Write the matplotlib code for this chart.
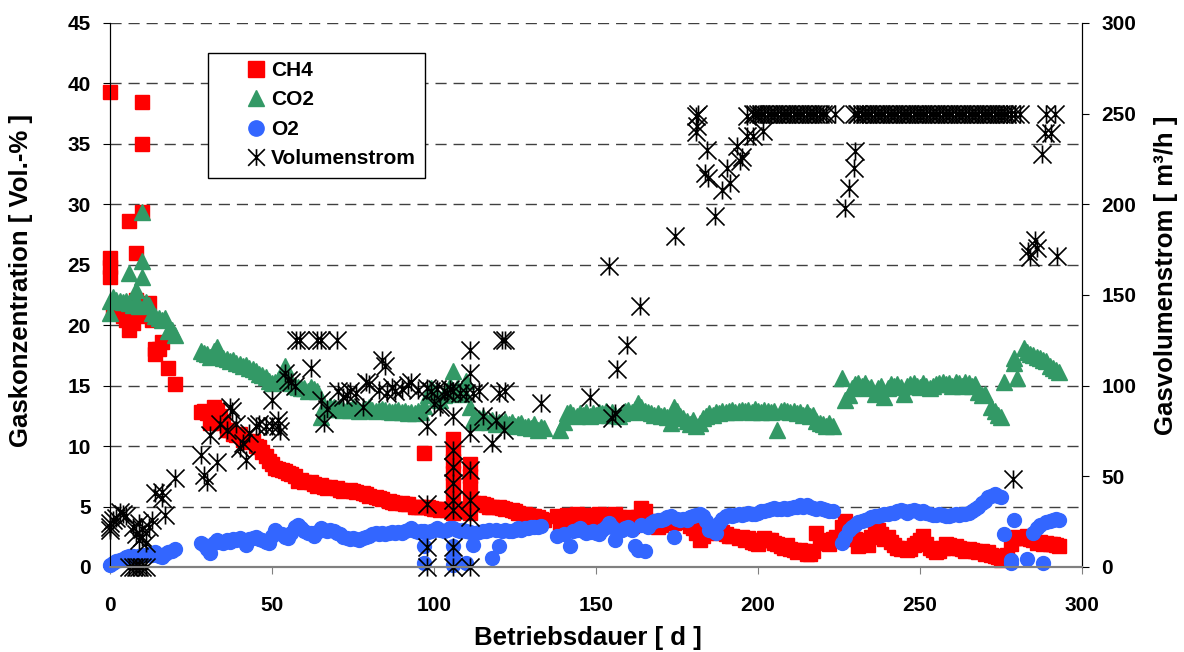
"""
Gaskonzentration und Volumenstrom ueber die Betriebsdauer
"""
import matplotlib
matplotlib.use("Agg")
import matplotlib.pyplot as plt
from matplotlib.path import Path
from matplotlib.patches import Rectangle
from matplotlib.lines import Line2D

plt.rcParams['font.family'] = ['Liberation Sans', 'DejaVu Sans']
plt.rcParams['font.weight'] = 'bold'

# (Tag, Vol.-%)
ch4 = [(0, 39.3), (0, 25.6), (0, 24.8), (0, 24.0), (1, 21.2), (2, 21.3), (3, 21.0), (4, 20.8),
       (5, 20.4), (6, 19.6), (6, 28.6), (7, 20.2), (8, 26.0), (8, 22.1), (9, 21.0), (10, 38.5),
       (10, 35.0), (10, 29.4), (11, 20.8), (12, 21.8), (13, 20.4), (14, 18.0), (14, 17.6),
       (15, 18.0), (16, 18.6), (18, 16.5), (20, 15.1),
       (28, 12.8), (29, 12.9), (30, 12.7), (31, 11.9), (32, 13.2), (33, 13.0), (34, 12.5),
       (35, 11.9), (36, 11.3), (37, 11.3), (38, 11.0), (39, 10.9), (40, 11.0), (41, 10.5),
       (42, 10.4), (43, 10.3), (44, 10.4), (45, 10.0), (46, 9.9), (47, 9.5), (48, 9.2),
       (49, 8.8), (50, 8.5), (51, 8.2), (52, 8.1), (53, 8.0), (54, 7.9), (55, 7.8), (56, 7.7),
       (57, 7.5), (58, 7.1), (59, 7.2), (60, 7.0), (62, 7.0), (63, 6.9), (64, 6.7), (65, 6.8),
       (66, 6.6), (67, 6.5), (68, 6.6), (70, 6.5), (71, 6.4), (72, 6.3), (74, 6.4), (75, 6.3),
       (76, 6.2), (78, 6.1), (79, 6.0), (80, 5.9), (82, 5.8), (83, 5.7), (84, 5.6), (86, 5.5),
       (87, 5.4), (88, 5.3), (90, 5.3), (91, 5.2), (92, 5.2), (94, 5.0), (95, 5.0), (96, 5.0),
       (97, 9.4), (98, 5.0), (99, 4.9), (100, 4.8), (101, 4.8), (102, 4.7), (103, 4.8),
       (104, 4.7), (106, 10.6), (106, 9.8), (106, 8.8), (106, 7.8), (106, 6.8), (106, 5.8),
       (106, 4.8), (106, 4.5), (108, 4.7), (111, 8.5), (111, 7.5), (111, 6.5), (111, 5.5),
       (111, 4.5), (112, 5.3), (113, 5.2), (114, 5.3), (115, 5.2), (116, 5.1), (117, 5.0),
       (118, 5.0), (120, 5.0), (121, 4.9), (122, 4.8), (124, 4.7), (125, 4.6), (126, 4.5),
       (128, 4.4), (129, 4.3), (130, 4.2), (131, 4.2), (132, 4.1), (133, 4.0), (134, 3.9),
       (138, 4.2), (139, 3.6), (140, 4.0), (141, 4.3), (142, 4.2), (143, 3.9), (144, 4.4),
       (145, 4.2), (146, 4.0), (147, 4.3), (148, 4.1), (149, 3.9), (150, 4.3), (151, 4.4),
       (152, 4.2), (153, 4.0), (154, 3.8), (155, 4.3), (156, 4.4), (157, 4.1), (158, 3.6),
       (159, 3.9), (160, 4.1), (161, 3.4), (162, 3.8), (163, 4.1), (164, 4.9), (165, 4.6),
       (166, 3.8), (167, 3.5), (168, 3.4), (169, 3.3), (170, 3.5), (172, 3.6), (173, 3.7),
       (174, 3.6), (176, 3.8), (177, 3.7), (178, 3.8), (179, 3.4), (180, 3.2), (181, 2.8),
       (182, 2.2), (183, 2.6), (184, 2.8), (185, 3.3), (186, 3.0), (187, 2.9), (188, 2.8),
       (189, 2.9), (190, 2.7), (191, 2.6), (192, 2.6), (194, 2.4), (195, 2.5), (196, 2.2),
       (197, 2.4), (198, 2.1), (199, 2.0), (200, 1.9), (201, 2.2), (202, 2.4), (203, 2.2),
       (204, 2.2), (205, 2.0), (206, 1.9), (207, 1.7), (208, 1.6), (209, 1.8), (210, 1.5),
       (211, 1.4), (212, 1.2), (213, 1.4), (214, 1.3), (215, 1.1), (216, 1.1), (217, 1.3),
       (218, 2.8), (219, 2.0), (220, 2.1), (221, 2.2), (222, 1.9), (223, 2.3), (224, 2.5),
       (226, 3.3), (227, 3.8), (228, 2.8), (229, 2.5), (230, 2.3), (231, 1.7), (232, 2.0),
       (233, 2.2), (234, 1.8), (235, 2.5), (236, 2.8), (237, 3.1), (238, 2.7), (239, 2.3),
       (240, 2.5), (241, 2.1), (242, 1.8), (243, 1.6), (244, 1.5), (245, 1.6), (246, 1.4),
       (247, 1.5), (248, 1.8), (249, 2.0), (250, 2.2), (251, 2.6), (252, 1.9), (253, 1.6),
       (254, 1.4), (255, 1.2), (256, 1.3), (257, 1.6), (258, 1.9), (259, 1.8), (260, 1.6),
       (261, 1.7), (262, 1.6), (263, 1.5), (264, 1.3), (265, 1.5), (266, 1.4), (267, 1.3),
       (268, 1.2), (269, 1.3), (270, 1.1), (271, 1.2), (272, 1.0), (273, 0.9), (274, 0.8),
       (275, 0.6), (276, 0.9), (277, 1.0), (278, 1.9), (279, 2.4), (280, 2.5), (281, 2.4),
       (282, 2.4), (283, 2.6), (284, 2.3), (285, 2.2), (286, 2.0), (287, 2.1), (288, 1.9),
       (289, 2.0), (290, 1.9), (291, 1.9), (292, 1.8), (293, 1.7)]

co2 = [(0, 21.0), (0, 22.0), (1, 22.3), (2, 22.1), (3, 22.0), (4, 21.9), (5, 22.0), (6, 24.3),
       (6, 21.8), (7, 21.7), (8, 22.9), (8, 22.0), (9, 21.6), (10, 29.4), (10, 25.3), (10, 24.0),
       (11, 21.9), (12, 21.7), (13, 21.0), (14, 20.8), (15, 20.6), (16, 20.4), (17, 20.6),
       (18, 19.5), (19, 19.6), (20, 19.2),
       (28, 17.9), (29, 17.7), (30, 17.6), (31, 17.4), (32, 17.9), (33, 18.2), (34, 17.5),
       (35, 17.3), (36, 17.2), (37, 17.0), (38, 17.1), (39, 16.9), (40, 16.8), (41, 16.6),
       (42, 16.7), (43, 16.5), (44, 16.4), (45, 16.2), (46, 16.0), (47, 15.9), (48, 15.7),
       (49, 15.4), (50, 15.2), (51, 15.3), (52, 15.5), (53, 15.9), (54, 16.6), (55, 15.8),
       (56, 15.2), (57, 15.0), (58, 14.9), (59, 14.8), (60, 14.8), (61, 14.6), (62, 14.9),
       (63, 14.7), (64, 14.6), (65, 12.4), (66, 13.3), (67, 13.1), (68, 13.3), (69, 13.2),
       (70, 13.1), (71, 13.2), (72, 13.0), (73, 13.1), (74, 13.0), (75, 13.2), (76, 13.1),
       (77, 12.9), (78, 13.0), (79, 13.1), (80, 13.2), (81, 13.0), (82, 12.9), (83, 13.0),
       (84, 13.1), (85, 13.0), (86, 12.9), (87, 12.8), (88, 12.9), (89, 13.0), (90, 12.8),
       (91, 12.9), (92, 12.7), (93, 12.8), (94, 12.7), (95, 12.9), (96, 12.8), (97, 13.3),
       (98, 14.2), (99, 14.8), (100, 14.5), (101, 14.0), (102, 13.8), (103, 14.2), (104, 14.6),
       (105, 15.0), (106, 16.2), (107, 14.8), (108, 14.3), (109, 14.6), (110, 15.4), (111, 13.2),
       (112, 12.2), (113, 12.0), (114, 12.3), (115, 12.4), (116, 12.1), (117, 12.0), (118, 12.2),
       (119, 11.8), (120, 12.0), (121, 11.9), (122, 12.1), (123, 11.8), (124, 12.0), (125, 11.7),
       (126, 11.8), (127, 11.9), (128, 11.6), (129, 11.7), (130, 11.5), (131, 11.8), (132, 11.3),
       (133, 11.6), (134, 11.5),
       (139, 11.3), (140, 12.0), (141, 12.7), (142, 12.8), (143, 12.6), (144, 12.5), (145, 12.7),
       (146, 12.6), (147, 12.8), (148, 12.5), (149, 12.7), (150, 12.6), (151, 12.8), (152, 12.7),
       (153, 12.9), (154, 12.6), (155, 12.8), (156, 12.6), (157, 12.5), (158, 12.7), (159, 12.9),
       (160, 13.0), (161, 12.8), (162, 13.1), (163, 13.6), (164, 13.2), (165, 12.9), (166, 12.8),
       (167, 12.7), (168, 12.6), (169, 12.7), (170, 12.5), (171, 12.6), (172, 12.4), (173, 11.9),
       (174, 13.2), (175, 12.9), (176, 12.5), (177, 12.3), (178, 12.1), (179, 11.8), (180, 12.2),
       (181, 11.7), (182, 11.9), (183, 12.3), (184, 12.5), (185, 12.7), (186, 12.6), (187, 12.8),
       (188, 12.7), (189, 12.9), (190, 12.8), (191, 12.9), (192, 13.0), (193, 12.8), (194, 12.9),
       (195, 13.0), (196, 12.9), (197, 13.0), (198, 12.8), (199, 13.1), (200, 12.9), (201, 12.8),
       (202, 13.0), (203, 12.9), (204, 12.8), (205, 12.9), (206, 11.3), (207, 12.9), (208, 13.0),
       (209, 12.9), (210, 12.8), (211, 12.9), (212, 12.7), (213, 12.8), (214, 12.6), (215, 12.8),
       (216, 12.5), (217, 12.6), (218, 12.1), (219, 11.9), (220, 11.8), (221, 11.7), (222, 11.9),
       (223, 11.7),
       (226, 15.6), (227, 13.8), (228, 14.2), (229, 14.8), (230, 15.1), (231, 15.2), (232, 15.0),
       (233, 15.2), (234, 14.8), (235, 14.9), (236, 14.3), (237, 14.8), (238, 15.0), (239, 14.1),
       (240, 14.8), (241, 15.1), (242, 15.0), (243, 15.1), (244, 14.9), (245, 14.3), (246, 15.0),
       (247, 15.1), (248, 15.2), (249, 15.0), (250, 14.9), (251, 15.2), (252, 15.0), (253, 14.8),
       (254, 15.0), (255, 15.1), (256, 15.2), (257, 15.3), (258, 15.1), (259, 15.2), (260, 15.0),
       (261, 15.3), (262, 15.2), (263, 15.0), (264, 15.3), (265, 15.2), (266, 15.0), (267, 15.1),
       (268, 14.5), (269, 14.2), (270, 14.3), (272, 13.2), (273, 12.9), (274, 12.6), (275, 12.4),
       (276, 15.3), (279, 17.3), (279, 16.9), (280, 15.6), (282, 18.1), (283, 17.8), (284, 17.6),
       (285, 17.5), (286, 17.4), (287, 17.3), (288, 17.1), (289, 17.0), (290, 16.6), (291, 16.5),
       (292, 16.3), (293, 16.1)]

o2 = [(0, 0.2), (1, 0.3), (2, 0.5), (3, 0.6), (4, 0.7), (5, 0.8), (6, 0.9), (7, 0.9), (8, 0.85),
      (9, 0.9), (10, 1.0), (11, 1.0), (12, 1.1), (13, 1.0), (14, 1.2), (15, 0.9), (16, 0.8),
      (17, 1.1), (18, 1.2), (19, 1.3), (20, 1.5),
      (28, 2.0), (29, 1.8), (30, 1.5), (31, 1.15), (32, 2.0), (33, 2.2), (34, 2.1), (35, 2.0),
      (36, 2.2), (37, 2.1), (38, 2.3), (39, 2.2), (40, 2.4), (41, 2.2), (42, 1.8), (43, 2.3),
      (44, 2.4), (45, 2.5), (46, 2.3), (47, 2.2), (48, 2.1), (49, 2.0), (50, 2.6), (51, 3.1),
      (52, 2.8), (53, 2.7), (54, 2.5), (55, 2.4), (56, 2.8), (57, 3.3), (58, 3.5), (59, 3.2),
      (60, 3.0), (61, 2.8), (62, 2.8), (63, 2.6), (64, 2.9), (65, 3.2), (66, 3.1), (67, 3.0),
      (68, 3.1), (69, 3.0), (70, 2.8), (71, 2.7), (72, 2.5), (73, 2.4), (74, 2.3), (75, 2.4),
      (76, 2.3), (77, 2.2), (78, 2.4), (79, 2.5), (80, 2.6), (81, 2.7), (82, 2.8), (83, 2.7),
      (84, 2.8), (85, 2.7), (86, 2.8), (87, 2.9), (88, 2.8), (89, 2.9), (90, 2.8), (91, 3.0),
      (92, 3.1), (93, 3.2), (94, 3.0), (95, 2.9), (96, 3.0), (97, 3.0), (97, 1.7), (97, 0.3),
      (98, 2.9), (99, 3.0), (100, 3.1), (101, 3.2), (102, 3.1), (103, 3.0), (104, 3.1),
      (105, 3.2), (106, 3.2), (106, 1.7), (106, 0.85), (106, 0.2), (107, 3.1), (108, 3.0),
      (109, 3.1), (110, 3.0), (110, 0.3), (111, 2.9), (112, 1.8), (113, 2.8), (114, 2.9),
      (115, 3.0), (116, 3.0), (117, 3.1), (118, 0.75), (119, 3.1), (120, 1.7), (121, 3.0),
      (122, 3.1), (123, 3.0), (124, 3.0), (125, 3.1), (126, 3.2), (127, 3.1), (128, 3.2),
      (129, 3.2), (130, 3.3), (131, 3.3), (132, 3.3), (133, 3.4),
      (138, 2.6), (140, 2.7), (142, 1.7), (143, 3.0), (144, 3.1), (145, 3.2), (146, 3.0),
      (147, 2.8), (148, 2.9), (149, 3.0), (150, 2.8), (151, 2.7), (152, 3.1), (153, 3.3),
      (154, 3.6), (155, 3.3), (156, 2.2), (157, 3.0), (158, 3.1), (159, 3.2), (160, 3.3),
      (161, 3.1), (162, 1.7), (163, 1.4), (164, 3.5), (165, 1.3), (166, 3.3), (167, 3.6),
      (168, 3.8), (169, 3.9), (170, 3.9), (171, 4.0), (172, 4.1), (173, 4.2), (174, 2.5),
      (175, 4.0), (176, 3.9), (177, 4.0), (178, 3.9), (179, 4.1), (180, 4.2), (181, 4.3),
      (182, 4.4), (183, 4.2), (184, 3.8), (185, 3.1), (186, 3.0), (187, 2.8), (188, 3.6),
      (189, 4.0), (190, 4.2), (191, 4.3), (192, 4.2), (193, 4.3), (194, 4.4), (195, 4.3),
      (196, 4.4), (197, 4.5), (198, 4.4), (199, 4.4), (200, 4.5), (201, 4.6), (202, 4.6),
      (203, 4.7), (204, 4.8), (205, 4.9), (206, 4.8), (207, 4.8), (208, 4.9), (209, 4.8),
      (210, 4.9), (211, 5.0), (212, 5.0), (213, 5.1), (214, 5.0), (215, 5.1), (216, 5.0),
      (217, 4.9), (218, 4.8), (219, 4.9), (220, 4.8), (221, 4.7), (222, 4.6), (223, 4.6),
      (226, 2.0), (227, 2.5), (228, 3.1), (229, 3.3), (230, 3.5), (231, 3.7), (232, 3.8),
      (233, 3.9), (234, 4.0), (235, 4.1), (236, 4.2), (237, 4.2), (238, 4.3), (239, 4.4),
      (240, 4.4), (241, 4.5), (242, 4.5), (243, 4.6), (244, 4.7), (245, 4.6), (246, 4.5),
      (247, 4.6), (248, 4.7), (249, 4.6), (250, 4.5), (251, 4.6), (252, 4.5), (253, 4.4),
      (254, 4.3), (255, 4.3), (256, 4.4), (257, 4.3), (258, 4.2), (259, 4.2), (260, 4.3),
      (261, 4.4), (262, 4.3), (263, 4.4), (264, 4.4), (265, 4.5), (266, 4.6), (267, 4.8),
      (268, 5.0), (269, 5.3), (270, 5.5), (271, 5.8), (272, 5.9), (273, 6.0), (274, 5.9),
      (275, 5.8), (276, 2.7), (278, 0.3), (278, 0.6), (279, 3.9), (283, 0.7), (285, 2.8),
      (286, 3.2), (287, 3.5), (288, 0.3), (289, 3.7), (290, 3.8), (291, 3.9), (292, 4.0),
      (293, 3.9)]

# (Tag, m3/h)
vol = [(0, 24), (0, 20.4), (0, 22), (1, 26), (2, 27), (3, 30.5), (4, 29), (5, 28), (6, 0), (7, 0),
       (8, 0), (9, 0), (10, 0), (11, 0), (7, 22), (8, 18), (9, 24), (9, 15), (10, 16.5), (10, 21),
       (11, 13), (12, 22), (13, 26), (14, 40.7), (16, 41.6), (16, 38), (17, 28.7), (20, 49),
       (28, 61.8), (29, 50.8), (30, 47), (31, 72.9), (33, 58), (34, 79), (36, 75.6), (37, 88.5),
       (37.5, 86), (39, 79), (40, 65.8), (41, 68.3), (42, 59), (43, 74), (45, 77.5), (46, 79),
       (48, 78), (50, 92.2), (50, 77.5), (52, 77.5), (52, 81), (52.5, 75), (54, 107), (55, 103),
       (56, 102), (57, 100), (57.5, 125), (58.6, 125), (62, 109.7), (64, 125), (65, 125),
       (65, 92), (66, 79.3), (67, 87), (70, 125), (70.5, 96.8), (72, 94), (73, 95), (74, 97),
       (76, 96), (78, 88.5), (79, 102), (80, 101), (83, 97.7), (84, 114), (85, 111), (85.5, 96),
       (87, 99), (88, 97), (90, 98), (92, 100.5), (93, 102), (95, 97.7), (97.7, 98.7),
       (97.7, 77.5), (97.7, 35), (97.7, 11), (97.7, 0), (99, 97), (100, 90), (101, 98),
       (102, 88), (103, 97), (104, 96), (105, 98), (106, 83), (106, 97), (106, 64.6),
       (106, 55.4), (106, 46.2), (106, 37), (106, 31.5), (106, 11), (106, 0), (108, 96),
       (110, 96), (111, 119.8), (111, 107), (111, 73.8), (111, 53.6), (111, 37), (111, 27.8),
       (111, 0), (112, 96), (114, 97), (115, 83), (118, 68.3), (119, 81), (120, 96), (121, 125),
       (122, 125), (121.5, 75.6), (122, 97), (133, 90.4), (148, 94), (154, 166), (155, 82),
       (156, 85), (156.4, 109), (159.6, 122.6), (163.7, 143.7), (174.5, 182.4), (181, 248.7),
       (181.5, 250), (181.3, 243), (181, 240), (183.6, 217.4), (184.6, 214.6), (184.2, 230),
       (186.7, 193.4), (188.8, 208), (190.3, 220), (191.4, 212), (193.4, 232), (194.4, 224),
       (195, 226), (196.5, 237.6), (196.5, 248.7), (198.5, 237.6), (201.6, 240.3),
       (198.5, 250), (199, 250), (200, 250), (201, 250), (202, 250), (203, 250), (204, 250),
       (205, 250), (206, 250), (207, 250), (208, 250), (209, 250), (210, 250), (211, 250),
       (212, 250), (213, 250), (214, 250), (215, 250), (216, 250), (217, 250), (218, 250),
       (219, 250), (220, 250), (221, 250), (223.8, 250),
       (227, 198), (228, 209), (229.5, 220), (230, 229.3),
       (229.5, 250), (230.5, 250), (231, 250), (232, 250), (233, 250), (234, 250), (235, 250),
       (236, 250), (237, 250), (238, 250), (239, 250), (240, 250), (241, 250), (242, 250),
       (243, 250), (244, 250), (245, 250), (246, 250), (247, 250), (248, 250), (249, 250),
       (250, 250), (251, 250), (252, 250), (253, 250), (254, 250), (255, 250), (256, 250),
       (257, 250), (258, 250), (259, 250), (260, 250), (261, 250), (262, 250), (263, 250),
       (264, 250), (265, 250), (266, 250), (267, 250), (268, 250), (269, 250), (270, 250),
       (271, 250), (272, 250), (273, 250), (274, 250), (275, 250), (276, 250), (277, 250),
       (278, 250), (279.3, 250), (281, 250),
       (278.7, 48.6), (283.4, 174), (284, 171), (285.5, 180.6), (286, 176), (287.6, 227.5),
       (288.6, 239.5), (290.5, 239.5), (289, 250), (291.7, 250), (292.2, 171.3)]

W, H = 1184, 652
fig = plt.figure(figsize=(W / 100, H / 100), dpi=100)
ax = fig.add_axes([110 / W, 85 / H, 972 / W, 544 / H])
ax2 = ax.twinx()

red, green, blue = '#FF0000', '#339966', '#3366FF'
ast = Path([(-1, -1), (1, 1), (-1, 1), (1, -1), (0, -1), (0, 1)],
           [Path.MOVETO, Path.LINETO] * 3)

def xy(pts):
    return [p[0] for p in pts], [p[1] for p in pts]

x, y = xy(ch4)
ax.plot(x, y, ls='none', marker='s', ms=10, color=red, mec=red, clip_on=False, zorder=3)
x, y = xy(co2)
ax.plot(x, y, ls='none', marker='^', ms=11, color=green, mec=green, clip_on=False, zorder=4)
x, y = xy(o2)
ax.plot(x, y, ls='none', marker='o', ms=10, color=blue, mec=blue, clip_on=False, zorder=5)
x, y = xy(vol)
ax2.plot(x, y, ls='none', marker=ast, ms=13, mfc='none', mec='black', mew=1.2, clip_on=False)

ax.set_xlim(0, 300)
ax.set_ylim(0, 45)
ax2.set_ylim(0, 300)
ax.set_xticks(range(0, 301, 50))
ax.set_yticks(range(0, 46, 5))
ax2.set_yticks(range(0, 301, 50))

ax.yaxis.grid(True, linestyle=(0, (8, 5)), color='#404040', lw=1)
ax.set_axisbelow(True)
for a in (ax, ax2):
    a.spines['top'].set_visible(False)
    a.spines['left'].set_color('black')
    a.spines['right'].set_color('black')
    a.spines['bottom'].set_color('#808080')
    a.spines['bottom'].set_linewidth(1.5)
ax.tick_params(axis='x', direction='out', length=5, color='#808080', labelsize=15, pad=16)
ax.tick_params(axis='y', direction='out', length=5, labelsize=15, pad=9)
ax2.tick_params(axis='y', direction='out', length=5, labelsize=15, pad=9)

fig.text(588 / W, 1 - 638 / H, 'Betriebsdauer [ d ]', ha='center', va='center', fontsize=18.5)
fig.text(21 / W, 1 - 280 / H, 'Gaskonzentration [ Vol.-% ]', ha='center', va='center',
         rotation=90, fontsize=18.5)
fig.text(1166 / W, 1 - 275 / H, 'Gasvolumenstrom [ m³/h ]', ha='center', va='center',
         rotation=90, fontsize=18.5)

# Legende mit Rahmen
fig.patches.append(Rectangle((208 / W, 1 - 178 / H), 217 / W, 125 / H, transform=fig.transFigure,
                             facecolor='white', edgecolor='black', lw=1, zorder=4))
handles = [Line2D([], [], ls='none', marker='s', ms=11, color=red),
           Line2D([], [], ls='none', marker='^', ms=12, color=green),
           Line2D([], [], ls='none', marker='o', ms=11, color=blue),
           Line2D([], [], ls='none', marker=ast, ms=12, mfc='none', mec='black', mew=1.2)]
fig.legend(handles, ['CH4', 'CO2', 'O2', 'Volumenstrom'], loc='upper left',
           bbox_to_anchor=(246 / W, 1 - 61 / H), frameon=False, fontsize=15,
           handlelength=1.0, handletextpad=0.2, labelspacing=0.5, borderpad=0, borderaxespad=0)

fig.savefig('out.png', dpi=100)
